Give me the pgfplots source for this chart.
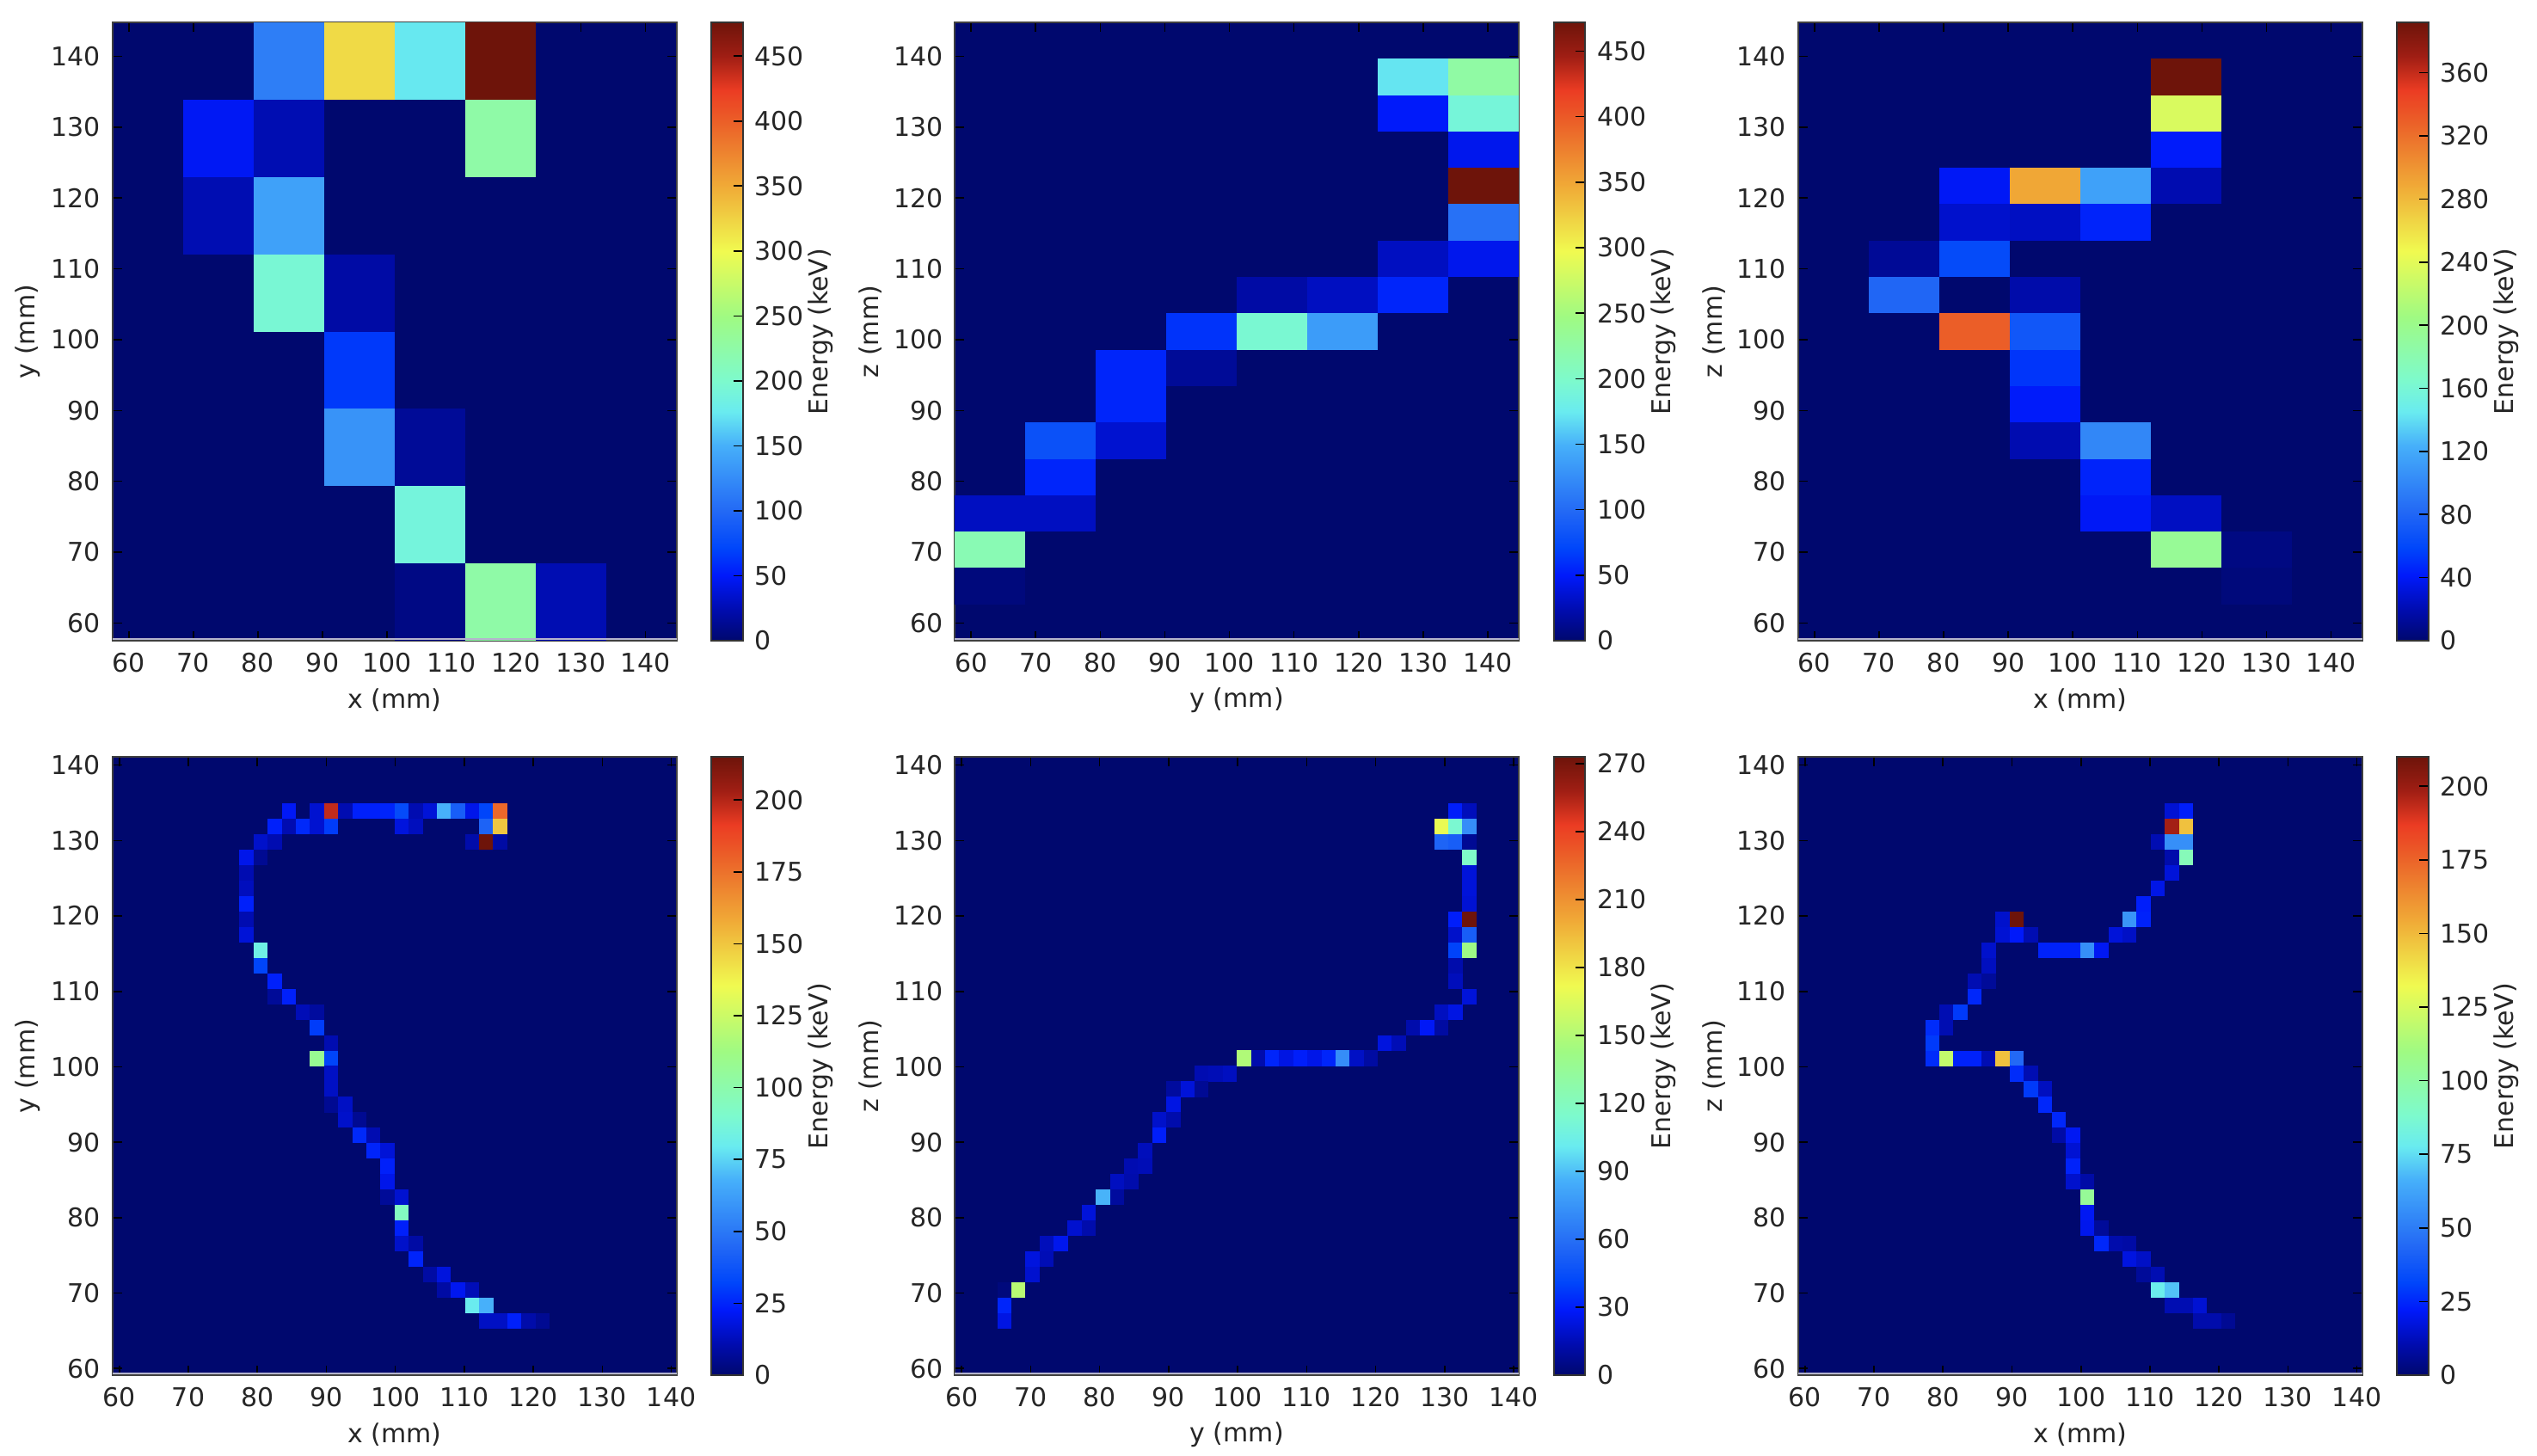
\documentclass[border=0pt]{standalone}
\usepackage{fontspec}
\setmainfont{DejaVu Sans}
\usepackage{pgfplots}
\usepackage{pgfplotstable}
\pgfplotsset{compat=1.18}

% jet as it looks in the picture
\definecolor{jetzero}{RGB}{0,8,110}
\pgfplotsset{colormap={pjet}{
  rgb255(0pt)=(0,8,110); rgb255(50pt)=(0,12,175); rgb255(105pt)=(0,25,250); rgb255(150pt)=(0,70,250);
  rgb255(210pt)=(35,105,245); rgb255(315pt)=(70,175,250); rgb255(370pt)=(105,235,240);
  rgb255(420pt)=(125,250,205); rgb255(525pt)=(160,250,130); rgb255(630pt)=(240,250,80);
  rgb255(735pt)=(240,170,55); rgb255(840pt)=(235,95,40); rgb255(890pt)=(235,60,35);
  rgb255(945pt)=(160,30,20); rgb255(1000pt)=(110,20,10)}}

% one histogram bin, in pt (picture scale is 0.25pt per reference pixel)
\pgfdeclareplotmark{binA}{\pgfpathrectangle{\pgfpoint{-10.25pt}{-11.24pt}}{\pgfpoint{20.5pt}{22.48pt}}\pgfusepathqfill}
\pgfdeclareplotmark{binB}{\pgfpathrectangle{\pgfpoint{-10.25pt}{-5.29pt}}{\pgfpoint{20.5pt}{10.58pt}}\pgfusepathqfill}
\pgfdeclareplotmark{binC}{\pgfpathrectangle{\pgfpoint{-2.06pt}{-2.26pt}}{\pgfpoint{4.12pt}{4.52pt}}\pgfusepathqfill}

\newcommand{\tf}{\fontsize{7.5}{9}\selectfont}

% coarse bins: c column, r row from the bottom
\pgfplotstableread{
c r e
4 0 8
5 0 225
6 0 25
4 1 190
3 2 130
4 2 15
3 3 65
2 4 195
3 4 20
1 5 25
2 5 140
1 6 48
2 6 25
5 6 225
2 7 115
3 7 320
4 7 175
5 7 476
}\xyA
\pgfplotstableread{
c r e
0 1 5
0 2 215
0 3 30
1 3 30
1 4 55
1 5 80
2 5 35
2 6 55
2 7 55
3 7 15
3 8 62
4 8 195
5 8 135
4 9 20
5 9 30
6 9 55
6 10 30
7 10 45
7 11 105
7 12 472
7 13 45
6 14 50
7 14 190
6 15 172
7 15 225
}\yzA
\pgfplotstableread{
c r e
6 1 4
5 2 195
6 2 6
4 3 40
5 3 25
4 4 45
3 5 20
4 5 100
3 6 42
3 7 52
2 8 330
3 8 70
1 9 80
3 9 18
1 10 12
2 10 62
2 11 28
3 11 25
4 11 45
2 12 40
3 12 290
4 12 115
5 12 20
5 13 42
5 14 235
5 15 392
}\xzA

% fine bins: c column, t row from the top
\pgfplotstableread{
c t e
12 3 22
14 3 16
15 3 198
16 3 11
17 3 24
18 3 24
19 3 25
20 3 34
21 3 11
22 3 17
23 3 68
24 3 41
25 3 20
26 3 32
27 3 178
11 4 24
12 4 11
13 4 26
14 4 16
15 4 30
20 4 18
21 4 13
26 4 43
27 4 150
10 5 15
11 5 11
25 5 10
26 5 215
27 5 9
9 6 20
10 6 6
9 7 11
9 8 13
9 9 24
9 10 11
9 11 17
10 12 83
10 13 32
11 14 24
11 15 7
12 15 24
13 16 12
14 16 8
14 17 30
15 18 11
14 19 108
15 19 32
15 20 14
15 21 14
15 22 6
16 22 14
16 23 15
17 23 6
17 24 26
18 24 11
18 25 25
19 25 17
19 26 24
19 27 20
19 28 7
20 28 16
20 29 94
20 30 24
20 31 15
21 31 9
21 32 25
22 33 9
23 33 18
23 34 9
24 34 21
25 34 12
25 35 80
26 35 68
26 36 14
27 36 14
28 36 24
29 36 10
30 36 6
}\xyB
\pgfplotstableread{
c t e
35 3 30
36 3 16
34 4 170
35 4 113
36 4 72
34 5 55
35 5 52
36 5 8
36 6 116
36 7 22
36 8 22
36 9 21
35 10 30
36 10 273
35 11 19
36 11 52
35 12 40
36 12 142
35 13 13
35 14 16
36 15 22
34 16 17
35 16 24
32 17 13
33 17 28
34 17 11
30 18 23
31 18 15
20 19 149
21 19 13
22 19 32
23 19 24
24 19 30
25 19 25
26 19 32
27 19 72
28 19 18
29 19 11
17 20 14
18 20 15
19 20 17
15 21 10
16 21 22
17 21 8
15 22 24
14 23 19
15 23 13
14 24 30
13 25 16
12 26 14
13 26 15
11 27 17
12 27 13
10 28 87
11 28 10
9 29 22
8 30 20
9 30 13
6 31 16
7 31 26
5 32 23
6 32 15
5 33 20
3 34 3
4 34 152
3 35 32
3 36 24
}\yzB
\pgfplotstableread{
c t e
26 3 16
27 3 23
26 4 198
27 4 148
25 5 11
26 5 56
27 5 56
26 6 10
27 6 94
26 7 17
25 8 19
24 9 23
14 10 15
15 10 210
23 10 58
24 10 24
14 11 16
15 11 22
16 11 11
22 11 17
23 11 14
13 12 15
17 12 24
18 12 24
19 12 24
20 12 56
21 12 21
13 13 13
12 14 11
13 14 7
12 15 25
10 16 11
11 16 29
9 17 26
10 17 11
9 18 29
9 19 26
10 19 120
11 19 24
12 19 24
13 19 11
14 19 148
15 19 44
15 20 26
16 20 11
16 21 29
17 21 13
17 22 25
18 23 25
18 24 9
19 24 21
19 25 16
19 26 24
19 27 15
20 27 9
20 28 104
20 29 21
20 30 20
21 30 7
21 31 25
22 31 10
23 31 9
23 32 18
24 32 14
24 33 7
25 33 11
25 34 79
26 34 70
26 35 11
27 35 11
28 35 16
28 36 10
29 36 10
30 36 6
}\xzB

\pgfplotsset{
  panel/.style n args={4}{
    at={#1}, anchor=south west,
    scale only axis, width=163.9pt, height=179.75pt,
    axis line style={black!75, line width=0.5pt},
    axis background/.style={fill=jetzero},
    tick align=inside, major tick length=2.75pt, tick style={black, line width=0.4pt},
    xtick={60,70,...,140}, ytick={60,70,...,140},
    tick label style={font=\tf, text=black!85},
    label style={font=\tf, text=black!85},
    /pgf/number format/assume math mode=true,
    xlabel={#2}, ylabel={#3},
    x label style={at={(axis description cs:0.5,-0.096)}, anchor=center},
    y label style={at={(axis description cs:-0.15,0.5)}, anchor=center},
    point meta min=0, point meta max=#4,
    colorbar,
    % pale sliver the reference leaves under the image
    extra description/.code={\draw[color={rgb,255:red,180;green,180;blue,205}, line width=0.5pt] (0,0.003) -- (1,0.003);},
  },
  cbar/.style={
    colorbar style={
      at={(parent axis.north east)}, anchor=north west, xshift=1.6pt, width=9.1pt,
      axis line style={black!80, line width=0.5pt},
      tick align=inside, major tick length=2.75pt,
      xtick=\empty, ytick={#1}, ytick pos=right,
      tick style={black, line width=0.4pt},
      tick label style={font=\tf, text=black!85},
      /pgf/number format/assume math mode=true,
      ylabel={Energy (keV)},
      y label style={font=\tf, text=black!85, at={(axis description cs:3.5,0.5)}, anchor=center, rotate=0},
    },
  },
  bins/.style={scatter, only marks, point meta=explicit, mark=#1,
    scatter/use mapped color={fill=mapped color}},
}

\begin{document}
\begin{tikzpicture}
\useasboundingbox (0,0) rectangle (737.5pt,423pt);

\begin{axis}[panel={(32.75pt,236.75pt)}{x (mm)}{y (mm)}{476}, cbar={0,50,...,450},
    xmin=57.5, xmax=144.8, ymin=57.5, ymax=144.8]
\addplot[bins=binA] table[x expr=57.5+10.91*(\thisrow{c}+0.5), y expr=57.5+10.91*(\thisrow{r}+0.5), meta=e] {\xyA};
\end{axis}

\begin{axis}[panel={(277.6pt,236.75pt)}{y (mm)}{z (mm)}{472}, cbar={0,50,...,450},
    xmin=57.5, xmax=144.8, ymin=57.5, ymax=144.8]
\addplot[bins=binB] table[x expr=57.5+10.91*(\thisrow{c}+0.5), y expr=57.5+5.135*(\thisrow{r}+0.5), meta=e] {\yzA};
\end{axis}

\begin{axis}[panel={(522.75pt,236.75pt)}{x (mm)}{z (mm)}{392}, cbar={0,40,...,360},
    xmin=57.5, xmax=144.8, ymin=57.5, ymax=144.8]
\addplot[bins=binB] table[x expr=57.5+10.91*(\thisrow{c}+0.5), y expr=57.5+5.135*(\thisrow{r}+0.5), meta=e] {\xzA};
\end{axis}

\begin{axis}[panel={(32.75pt,23.25pt)}{x (mm)}{y (mm)}{215}, cbar={0,25,...,200},
    xmin=59.03, xmax=140.75, ymin=59.1, ymax=141.1]
\addplot[bins=binC] table[x expr=59.03+2.043*(\thisrow{c}+0.5), y expr=141.1-2.05*(\thisrow{t}+0.5), meta=e] {\xyB};
\end{axis}

\begin{axis}[panel={(277.6pt,23.25pt)}{y (mm)}{z (mm)}{273}, cbar={0,30,...,270},
    xmin=59.03, xmax=140.75, ymin=59.1, ymax=141.1]
\addplot[bins=binC] table[x expr=59.03+2.043*(\thisrow{c}+0.5), y expr=141.1-2.05*(\thisrow{t}+0.5), meta=e] {\yzB};
\end{axis}

\begin{axis}[panel={(522.75pt,23.25pt)}{x (mm)}{z (mm)}{210}, cbar={0,25,...,200},
    xmin=59.03, xmax=140.75, ymin=59.1, ymax=141.1]
\addplot[bins=binC] table[x expr=59.03+2.043*(\thisrow{c}+0.5), y expr=141.1-2.05*(\thisrow{t}+0.5), meta=e] {\xzB};
\end{axis}
\end{tikzpicture}
\end{document}
